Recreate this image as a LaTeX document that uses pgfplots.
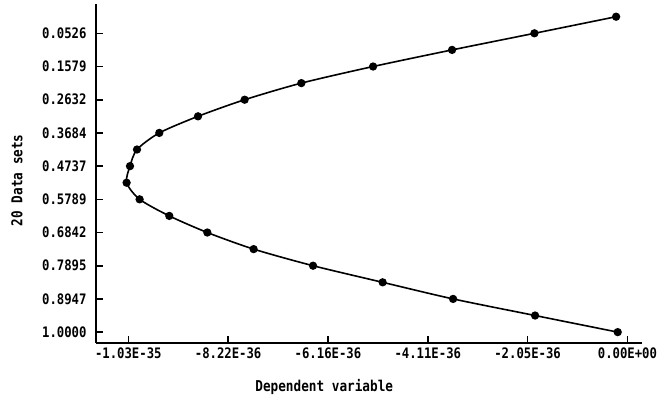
\documentclass[border=0pt]{standalone}
\usepackage{fontspec}
\setmainfont{DejaVu Sans Mono}[FakeStretch=0.85]
\usepackage{pgfplots}
\pgfplotsset{compat=1.18}
\begin{document}
\begin{tikzpicture}
\begin{axis}[
  scale only axis,
  width=546bp, height=339bp,
  xmin=-10.94, xmax=0.30,
  ymin=-0.0403, ymax=1.0345,
  y dir=reverse,
  axis lines=left,
  axis line style={-, line width=1.6bp},
  tick style={line width=1.6bp, black},
  major tick length=7bp,
  tick align=inside,
  xtick={-10.275,-8.22,-6.165,-4.11,-2.055,0},
  xticklabels={-1.03E-35,-8.22E-36,-6.16E-36,-4.11E-36,-2.05E-36,0.00E+00},
  ytick={0.0526,0.1579,0.2632,0.3684,0.4737,0.5789,0.6842,0.7895,0.8947,1.0},
  yticklabels={0.0526,0.1579,0.2632,0.3684,0.4737,0.5789,0.6842,0.7895,0.8947,1.0000},
  /pgf/number format/assume math mode=true,
  ticklabel style={font=\fontsize{14.5}{16}\selectfont\bfseries},
  yticklabel style={xshift=-6bp},
  xticklabel style={yshift=-1bp},
  xlabel={Dependent variable},
  ylabel={20 Data sets},
  label style={font=\fontsize{15}{17}\selectfont\bfseries},
  xlabel style={at={(rel axis cs:0.418,-0.1298)}, anchor=center},
  ylabel style={at={(rel axis cs:-0.1447,0.48)}, anchor=center},
]
\addplot[black, line width=1.6bp, smooth, tension=0.45, mark=*, mark size=3.3bp,
  mark options={fill=black}] coordinates {
(-0.233,0.00000)
(-1.915,0.05263)
(-3.610,0.10526)
(-5.236,0.15789)
(-6.713,0.21053)
(-7.880,0.26316)
(-8.840,0.31579)
(-9.637,0.36842)
(-10.096,0.42105)
(-10.240,0.47368)
(-10.310,0.52632)
(-10.042,0.57895)
(-9.431,0.63158)
(-8.648,0.68421)
(-7.695,0.73684)
(-6.472,0.78947)
(-5.039,0.84211)
(-3.589,0.89474)
(-1.901,0.94737)
(-0.200,1.00000)
};
\end{axis}
\pgfresetboundingbox
\path[use as bounding box] ([shift={(-96bp,-56bp)}]current axis.south west) rectangle ([shift={(27bp,4bp)}]current axis.north east);
\end{tikzpicture}
\end{document}
